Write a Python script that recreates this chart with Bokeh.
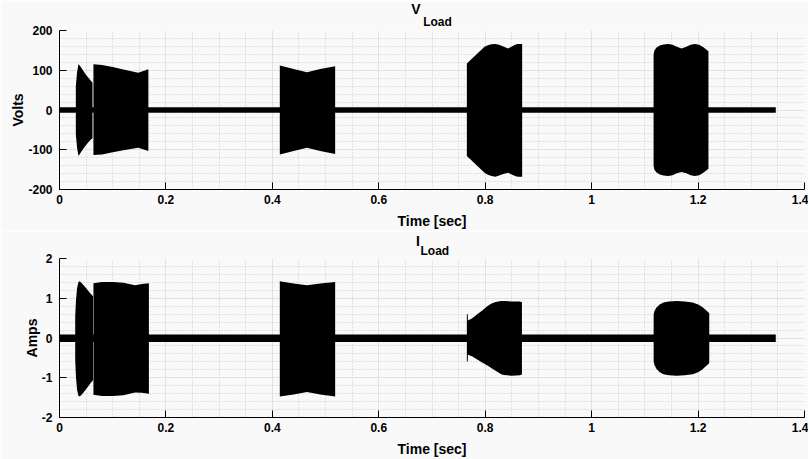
from bokeh.plotting import figure
from bokeh.models import Range1d, FixedTicker, Title
from bokeh.layouts import column
from bokeh.embed import file_html
from bokeh.resources import INLINE
import numpy as np

# ---------------- axes / ticks ----------------
x_ticks = [0, 0.2, 0.4, 0.6, 0.8, 1.0, 1.2, 1.4]
x_tick_labels = ["0", "0.2", "0.4", "0.6", "0.8", "1", "1.2", "1.4"]
v_ticks = [-200, -100, 0, 100, 200]
v_tick_labels = ["-200", "-100", "0", "100", "200"]
i_ticks = [-2, -1, 0, 1, 2]
i_tick_labels = ["-2", "-1", "0", "1", "2"]

# ---------------- V_Load envelopes (Volts) ----------------
v_base_t = [0.0, 1.346]
v_base_hi = [7, 7]
v_base_lo = [-7, -7]

v1_t = [0.0307, 0.0330, 0.0357, 0.0400, 0.0450, 0.0500, 0.0550, 0.0600, 0.0620]
v1_hi = [60, 95, 116, 108, 98, 88, 80, 72, 69]
v1_lo = [-61, -95, -116, -107, -97, -88, -80, -73, -71]

v2_t = [0.0638, 0.080, 0.100, 0.120, 0.148, 0.167]
v2_hi = [115, 113, 108, 102, 94, 102.5]
v2_lo = [-113, -112, -106, -101, -95, -103]

v3_t = [0.414, 0.440, 0.465, 0.490, 0.518]
v3_hi = [112, 103, 95, 103, 110]
v3_lo = [-112, -103, -95, -103, -111]

v4_t = [0.7655, 0.7987, 0.805, 0.812, 0.819, 0.826, 0.834, 0.843, 0.850, 0.856, 0.861, 0.8694]
v4_hi = [117, 159, 163, 165.5, 166, 164, 160, 155, 160, 164, 166, 166]
v4_lo = [-116, -158, -163, -166, -168, -165, -161, -158, -162, -166, -168, -168]

v5_t = [1.1164, 1.118, 1.122, 1.128, 1.135, 1.144, 1.152, 1.160, 1.169,
        1.178, 1.186, 1.194, 1.202, 1.210, 1.2195]
v5_hi = [140, 150, 157, 162, 165, 166, 164, 159, 155, 159, 164, 166, 164, 158, 148]
v5_lo = [-140, -150, -157, -162, -165, -166, -164, -159, -156, -159, -164, -166, -164, -158, -148]

# ---------------- I_Load envelopes (Amps) ----------------
i_base_t = [0.0, 1.346]
i_base_hi = [0.09, 0.09]
i_base_lo = [-0.10, -0.10]

i1_t = [0.0295, 0.031, 0.033, 0.0355, 0.038, 0.042, 0.047, 0.052, 0.057, 0.063]
i1_hi = [0.55, 0.95, 1.25, 1.40, 1.43, 1.38, 1.30, 1.22, 1.14, 1.05]
i1_lo = [-0.55, -1.00, -1.30, -1.45, -1.47, -1.42, -1.34, -1.25, -1.16, -1.06]

i2_t = [0.0638, 0.080, 0.100, 0.120, 0.142, 0.155, 0.168]
i2_hi = [1.38, 1.41, 1.41, 1.39, 1.33, 1.36, 1.38]
i2_lo = [-1.43, -1.46, -1.46, -1.44, -1.37, -1.38, -1.40]

i3_t = [0.414, 0.440, 0.465, 0.490, 0.518]
i3_hi = [1.43, 1.37, 1.33, 1.37, 1.41]
i3_lo = [-1.47, -1.42, -1.36, -1.42, -1.47]

i4_t = [0.7655, 0.7672, 0.7675, 0.775, 0.785, 0.795, 0.805, 0.812, 0.818,
        0.824, 0.830, 0.835, 0.850, 0.865, 0.869]
i4_hi = [0.60, 0.60, 0.44, 0.49, 0.60, 0.70, 0.81, 0.87, 0.90, 0.92, 0.93, 0.93, 0.92, 0.92, 0.90]
i4_lo = [-0.59, -0.59, -0.42, -0.46, -0.54, -0.62, -0.70, -0.76, -0.81, -0.86, -0.91, -0.93, -0.95, -0.94, -0.92]

i5_t = [1.1165, 1.118, 1.122, 1.128, 1.135, 1.145, 1.160, 1.175, 1.190,
        1.200, 1.208, 1.214, 1.219, 1.221]
i5_hi = [0.59, 0.68, 0.77, 0.84, 0.89, 0.92, 0.93, 0.92, 0.89, 0.84, 0.78, 0.71, 0.65, 0.62]
i5_lo = [-0.59, -0.68, -0.78, -0.86, -0.91, -0.94, -0.95, -0.94, -0.91, -0.86, -0.79, -0.72, -0.66, -0.63]

FONT = "Liberation Sans"
BG = "#f9f9f9"


def make_fig(y_range, y_ticks, y_tick_labels, y_minor, ylabel, top_border, bottom_border):
    p = figure(frame_width=745, frame_height=159, title=None,
               min_border_left=59, min_border_right=4,
               min_border_top=top_border, min_border_bottom=bottom_border,
               x_range=Range1d(0, 1.4), y_range=Range1d(*y_range),
               output_backend="svg", toolbar_location=None,
               background_fill_color=BG, border_fill_color=BG)
    p.outline_line_color = None
    p.xaxis.ticker = FixedTicker(ticks=x_ticks, minor_ticks=list(np.round(np.arange(0, 1.4001, 0.05), 3)))
    p.yaxis.ticker = FixedTicker(ticks=y_ticks, minor_ticks=y_minor)
    p.xaxis.major_label_overrides = dict(zip(x_ticks, x_tick_labels))
    p.yaxis.major_label_overrides = dict(zip(y_ticks, y_tick_labels))
    p.xaxis.axis_label = "Time [sec]"
    p.yaxis.axis_label = ylabel
    for ax in (p.xaxis[0], p.yaxis[0]):
        ax.axis_line_color = "black"
        ax.axis_line_width = 1
        ax.major_tick_in = 7
        ax.major_tick_out = 0
        ax.major_tick_line_color = "black"
        ax.minor_tick_line_color = None
        ax.major_label_text_font = FONT
        ax.major_label_text_font_size = "12px"
        ax.major_label_text_font_style = "bold"
        ax.major_label_text_color = "black"
        ax.axis_label_text_font = FONT
        ax.axis_label_text_font_size = "14px"
        ax.axis_label_text_font_style = "bold"
        ax.axis_label_text_color = "black"
    p.xaxis.major_label_standoff = 1
    p.xaxis.axis_label_standoff = 6
    p.yaxis.major_label_standoff = 3
    p.yaxis.axis_label_standoff = -1
    for g in (p.xgrid[0], p.ygrid[0]):
        g.grid_line_color = "#e2e2e2"
        g.grid_line_width = 1
        g.minor_grid_line_color = "#c9c9c9"
        g.minor_grid_line_dash = "1 2"
        g.minor_grid_line_width = 1
    return p


v_minor = list(range(-200, 201, 20))
i_minor = list(np.round(np.arange(-2, 2.001, 0.2), 2))

p1 = make_fig((-200, 200), v_ticks, v_tick_labels, v_minor, "Volts", 30, 42)
p2 = make_fig((-2, 2), i_ticks, i_tick_labels, i_minor, "Amps", 27, 41)

for t, lo, hi in [(v_base_t, v_base_lo, v_base_hi), (v1_t, v1_lo, v1_hi), (v2_t, v2_lo, v2_hi),
                  (v3_t, v3_lo, v3_hi), (v4_t, v4_lo, v4_hi), (v5_t, v5_lo, v5_hi)]:
    p1.varea(x=t, y1=lo, y2=hi, fill_color="black")

for t, lo, hi in [(i_base_t, i_base_lo, i_base_hi), (i1_t, i1_lo, i1_hi), (i2_t, i2_lo, i2_hi),
                  (i3_t, i3_lo, i3_hi), (i4_t, i4_lo, i4_hi), (i5_t, i5_lo, i5_hi)]:
    p2.varea(x=t, y1=lo, y2=hi, fill_color="black")


def add_title(p, main, sub, main_off, main_standoff, sub_off, sub_standoff):
    # subscript band sits next to the frame, main letter band above it
    p.add_layout(Title(text=sub, align="left", offset=sub_off, standoff=sub_standoff,
                       text_font=FONT, text_font_size="12px", text_font_style="bold",
                       text_color="black"), "above")
    p.add_layout(Title(text=main, align="left", offset=main_off, standoff=main_standoff,
                       text_font=FONT, text_font_size="14px", text_font_style="bold",
                       text_color="black"), "above")


add_title(p1, "V", "Load", 351.7, -11, 363.7, 3)
add_title(p2, "I", "Load", 356.4, -16, 361.0, 2)

layout = column(p1, p2, spacing=0)
open("out.html", "w").write(file_html(layout, INLINE))
